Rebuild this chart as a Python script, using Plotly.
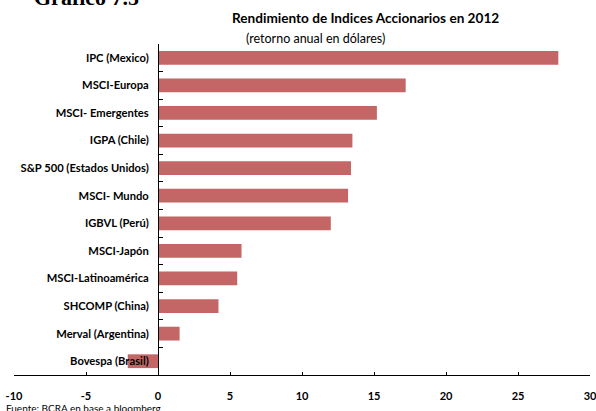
import plotly.graph_objects as go

categories = ["IPC (Mexico)", "MSCI-Europa", "MSCI- Emergentes", "IGPA (Chile)",
              "S&P 500 (Estados Unidos)", "MSCI- Mundo", "IGBVL (Perú)", "MSCI-Japón",
              "MSCI-Latinoamérica", "SHCOMP (China)", "Merval (Argentina)", "Bovespa (Brasil)"]
values = [27.8, 17.2, 15.2, 13.5, 13.4, 13.2, 12.0, 5.8, 5.5, 4.2, 1.5, -2.1]
x_ticks = [-10, -5, 0, 5, 10, 15, 20, 25, 30]

W, H = 596, 411
ml, mr, mt, mb = 14, 6, 44, 35.5
ph = H - mt - mb
pw = W - ml - mr
xmin, xmax = -10, 30

fig = go.Figure(go.Bar(
    x=values, y=categories, orientation="h",
    marker=dict(color="#C46566", line=dict(width=0)),
    width=0.5,
))

def py(px):
    return (H - mb - px) / ph

def pxf(px):
    return (px - ml) / pw

fig.update_layout(
    width=W, height=H,
    margin=dict(l=ml, r=mr, t=mt, b=mb, autoexpand=False),
    paper_bgcolor="white", plot_bgcolor="white",
    showlegend=False,
    font=dict(family="Lato, sans-serif", color="black"),
    xaxis=dict(
        range=[xmin, xmax], tickvals=x_ticks, ticktext=[str(v) for v in x_ticks],
        showline=True, linecolor="black", linewidth=1,
        ticks="inside", ticklen=3, tickcolor="black",
        showgrid=False, zeroline=False, automargin=False,
        tickfont=dict(size=11, weight="bold", color="black"),
        ticklabelstandoff=11, ticklabeloverflow="allow",
    ),
    yaxis=dict(
        categoryorder="array", categoryarray=categories, autorange="reversed",
        anchor="free", position=(0 - xmin) / (xmax - xmin),
        showline=True, linecolor="black", linewidth=1,
        ticks="inside", ticklen=4, tickcolor="black", tickson="boundaries",
        showgrid=False, zeroline=False, automargin=False,
        tickfont=dict(size=11.2, weight="bold", color="black"),
        ticklabelstandoff=7, ticklabeloverflow="allow",
    ),
    annotations=[
        dict(text="Gráfico 7.5", xref="paper", yref="paper", x=pxf(32), y=py(12),
             xanchor="left", yanchor="bottom", showarrow=False,
             font=dict(family="Liberation Serif", size=22, weight="bold", color="black")),
        dict(text="Rendimiento de Indices Accionarios en 2012", xref="paper", yref="paper",
             x=pxf(365), y=py(18), xanchor="center", yanchor="middle", showarrow=False,
             font=dict(size=13.6, weight="bold", color="black")),
        dict(text="(retorno anual en dólares)", xref="paper", yref="paper",
             x=pxf(315), y=py(38), xanchor="center", yanchor="middle", showarrow=False,
             font=dict(size=12.5, color="black")),
        dict(text="Fuente: BCRA en base a bloomberg", xref="paper", yref="paper",
             x=pxf(4), y=py(409), xanchor="left", yanchor="middle", showarrow=False,
             font=dict(size=10, color="black")),
    ],
)

fig.write_html("out.html", config={"displayModeBar": False},
               post_script="document.body.style.margin='0';document.body.style.overflow='hidden';")
